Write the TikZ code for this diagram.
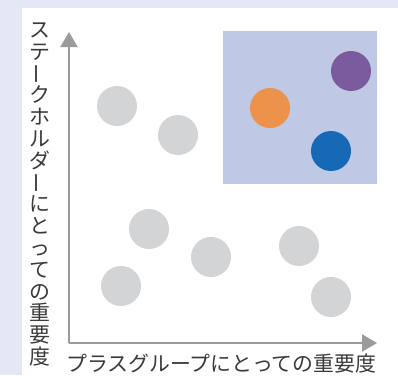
\documentclass[tikz,border=0pt]{standalone}
\usepackage{fontspec}
\usetikzlibrary{arrows.meta}
\newfontfamily\jpfont{Noto Sans CJK JP}
\definecolor{bgstrip}{HTML}{E4E8F4}
\definecolor{axisgray}{HTML}{9A9B9D}
\definecolor{dotgray}{HTML}{D3D4D6}
\definecolor{panelblue}{HTML}{BFC8E4}
\definecolor{dotpurple}{HTML}{7B5B9E}
\definecolor{dotorange}{HTML}{EC924A}
\definecolor{dotblue}{HTML}{1669B4}
\definecolor{labeltext}{HTML}{3A3A3A}
\begin{document}
\begin{tikzpicture}[x=1pt,y=-1pt,
  dot/.style={circle,minimum size=40pt,inner sep=0pt,draw=none},
  axisline/.style={draw=axisgray,line width=2.2pt,-{Triangle[width=17pt,length=15pt]}},
  axislabel/.style={text=labeltext,inner sep=0pt,font=\jpfont\fontsize{20.9}{21.8}\selectfont}]
\useasboundingbox (0,0) rectangle (398,375);
\fill[bgstrip] (0,0) rectangle (398,375);
\fill[white] (22,8) rectangle (398,375);
% highlighted panel
\fill[panelblue] (223,31) rectangle (377,184);
% axes
\coordinate (O) at (69,343);
\coordinate (ytip) at (69,32);
\coordinate (xtip) at (377,343);
\draw[axisline] (O) -- (ytip);
\draw[axisline] (O) -- (xtip);
% gray dots
\node[dot,fill=dotgray] (g1) at (117,106) {};
\node[dot,fill=dotgray] (g2) at (178,135) {};
\node[dot,fill=dotgray] (g3) at (149,229) {};
\node[dot,fill=dotgray] (g4) at (121,286) {};
\node[dot,fill=dotgray] (g5) at (211,257) {};
\node[dot,fill=dotgray] (g6) at (299,246) {};
\node[dot,fill=dotgray] (g7) at (331,297) {};
% coloured dots
\node[dot,fill=dotpurple] (p1) at (351,71) {};
\node[dot,fill=dotorange] (p2) at (270,108) {};
\node[dot,fill=dotblue] (p3) at (331,151) {};
% labels
\node[axislabel,anchor=base west] (xlab) at (66,371) {プラスグループにとっての重要度};
\node[axislabel,align=center,anchor=north] (ylab) at (40,22.5) {ス\\テ\\\raisebox{3pt}{\rotatebox[origin=c]{90}{ー}}\\ク\\ホ\\ル\\ダ\\\raisebox{3pt}{\rotatebox[origin=c]{90}{ー}}\\に\\と\\っ\\て\\の\\重\\要\\度};
\end{tikzpicture}
\end{document}
